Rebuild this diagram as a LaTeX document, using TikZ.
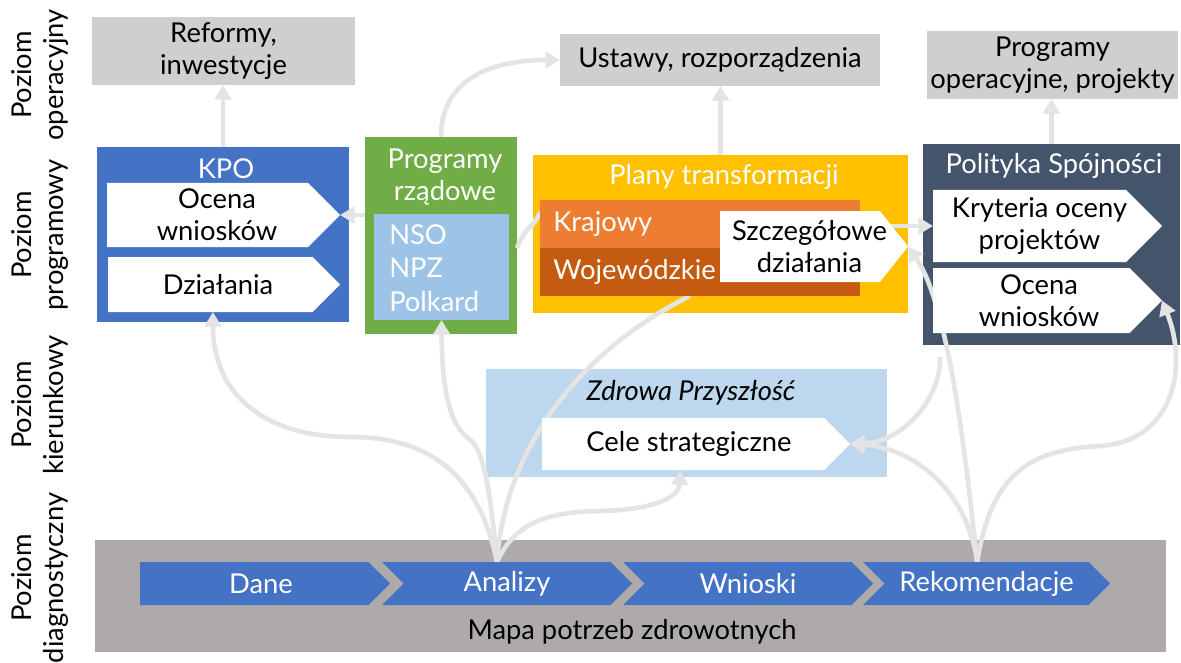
\documentclass[tikz,border=0pt]{standalone}
\usepackage{fontspec}
\setmainfont{Lato}
\usetikzlibrary{shapes.symbols,arrows.meta}

\definecolor{boxgrey}{HTML}{D0CECE}
\definecolor{kpoblue}{HTML}{4472C4}
\definecolor{rzgreen}{HTML}{70AD47}
\definecolor{nsoblue}{HTML}{9DC3E6}
\definecolor{plyellow}{HTML}{FFC000}
\definecolor{krorange}{HTML}{ED7D31}
\definecolor{wojorange}{HTML}{C55A11}
\definecolor{psslate}{HTML}{44546A}
\definecolor{zpblue}{HTML}{BDD7EE}
\definecolor{mapgrey}{HTML}{AEAAAA}
\definecolor{linkgrey}{HTML}{E4E4E4}

\pgfdeclarelayer{back}
\pgfdeclarelayer{front}
\pgfsetlayers{back,main,front}

\tikzset{
  base/.style={font=\fontsize{20.5}{24}\selectfont},
  lvl/.style={base, rotate=90, align=center, inner sep=0pt},
  area/.style={inner sep=0pt, outer sep=0pt},
  greybox/.style={area, base, fill=boxgrey, align=center},
  head/.style={base, text=white, align=center, inner sep=0.75pt},
  txt/.style={base, align=center, inner sep=0.75pt},
  band/.style={area, base, text=white, text width=220pt, inner xsep=10pt, minimum height=36pt, align=left},
  tag/.style={shape=signal, signal to=east, signal pointer angle=90, fill=white, inner sep=0pt, outer sep=0pt},
  chev/.style={shape=signal, signal from=west, signal to=east, signal pointer angle=90, fill=kpoblue, text=white, minimum width=187.5pt, minimum height=32.25pt, inner sep=0pt, outer sep=0pt, base},
  link/.style={draw=linkgrey, line width=3.5pt, -{Triangle[length=11pt,width=12.5pt]}},
  stub/.style={draw=linkgrey, line width=3.5pt},
}

\begin{document}
\begin{tikzpicture}[x=0.75pt,y=0.75pt,yscale=-1,xscale=1]
        \useasboundingbox (0,0) rectangle (1181,663);

        \node [lvl] (lop) at (40,75) {Poziom\\operacyjny};
        \node [lvl] (lpr) at (40,235) {Poziom\\programowy};
        \node [lvl] (lki) at (40,405) {Poziom\\kierunkowy};
        \node [lvl] (ldi) at (40,578) {Poziom\\diagnostyczny};

        \begin{pgfonlayer}{back}
        \node [greybox, minimum width=197.25pt, minimum height=51pt] (reformy) at (223.5,51) {Reformy,\\inwestycje};
        \node [greybox, minimum width=240pt, minimum height=39pt] (ustawy) at (720,60) {Ustawy, rozporządzenia};
        \node [greybox, minimum width=188.25pt, minimum height=51pt] (progop) at (1052.5,65) {Programy\\operacyjne, projekty};
        \node [area, fill=kpoblue, minimum width=189pt, minimum height=131.25pt] (kpo) at (223,234.5) {};
        \node [area, fill=rzgreen, minimum width=114pt, minimum height=147.75pt] (prz) at (441,235.5) {};
        \node [area, fill=plyellow, minimum width=281.25pt, minimum height=118.5pt] (plany) at (720.5,234) {};
        \node [area, fill=psslate, minimum width=192.75pt, minimum height=150.75pt] (polityka) at (1051.5,244.5) {};
        \node [area, fill=zpblue, minimum width=300.75pt, minimum height=81pt] (zdrowa) at (686.5,423) {};
        \node [area, fill=mapgrey, minimum width=803.25pt, minimum height=84pt] (mapa) at (630.5,596) {};
        \end{pgfonlayer}

        \begin{pgfonlayer}{front}
        \node [head] (kpottl) at (226,169) {KPO};
        \node [tag, minimum width=174.75pt, minimum height=48pt] (ocenak) at (207.5,215) {};
        \node [txt] (ocenaktx) at (217,215) {Ocena\\wniosków};
        \node [tag, minimum width=174pt, minimum height=41.25pt] (dzialania) at (210.25,284.5) {};
        \node [txt] (dzialaniatx) at (218,285) {Działania};

        \node [head] (przttl) at (445,177) {Programy\\rządowe};
        \node [area, fill=nsoblue, minimum width=101.25pt, minimum height=79.5pt] (nso) at (441.5,267) {};
        \node [head, anchor=west, align=left, font=\fontsize{20.5}{25}\selectfont] (nsotxt) at (388,268) {NSO\\NPZ\\Polkard};

        \node [head] (planyttl) at (724,177) {Plany transformacji};
        \node [band, fill=krorange] (kraj) at (700,224) {Krajowy};
        \node [band, fill=wojorange] (wojew) at (700,272) {Wojewódzkie};
        \node [tag, signal pointer angle=103, minimum width=141pt, minimum height=53.25pt] (szcz) at (800,246.5) {};
        \node [txt] (szcztx) at (809.5,246.5) {Szczegółowe\\działania};

        \node [head] (polttl) at (1054,166) {Polityka Spójności};
        \node [tag, minimum width=171.75pt, minimum height=54pt] (kryteria) at (1029.5,226) {};
        \node [txt] (kryteriatx) at (1039.5,226) {Kryteria oceny\\projektów};
        \node [tag, minimum width=171.75pt, minimum height=48.75pt] (ocenaps) at (1031.25,300.5) {};
        \node [txt] (ocenapstx) at (1039,300.5) {Ocena\\wniosków};

        \node [txt, font=\fontsize{20.5}{24}\selectfont\itshape] (zdrttl) at (691,393) {Zdrowa Przyszłość};
        \node [tag, minimum width=231pt, minimum height=39pt] (cele) at (683,444) {};
        \node [txt] (celetx) at (689,444) {Cele strategiczne};

        \node [chev, signal from=nowhere, execute at begin node={\hspace*{10pt}}] (dane) at (254.25,583.5) {Dane};
        \node [chev] (analizy) at (507,583.5) {Analizy};
        \node [chev] (wnioski) at (748,583.5) {Wnioski};
        \node [chev, minimum width=185.25pt] (rekom) at (986.5,583.5) {Rekomendacje};
        \node [txt] (mapatxt) at (632,632) {Mapa potrzeb zdrowotnych};
        \end{pgfonlayer}

        \coordinate (ansrc) at ([xshift=-7.5pt]analizy.north);
        \coordinate (rksrc) at ([xshift=-7pt]rekom.north);

        \draw [link] (kpo.north) -- (kpo.north |- reformy.south);
        \draw [link] (plany.north) -- (plany.north |- ustawy.south);
        \draw [link] (polityka.north) -- (polityka.north |- progop.south);
        \draw [link] (prz.west |- ocenak.east) -- (ocenak.east);
        \draw [link] (prz.north) .. controls (441,80) and (490,60) .. (ustawy.west);
        \draw [stub] ([yshift=9.4pt]prz.east) .. controls (527,223) and (533,230) .. ([yshift=-9pt]kraj.west);
        \draw [link] ([xshift=-16pt]szcz.east |- kryteria.west) -- (kryteria.west);

        \draw [link] (ansrc) .. controls (478,470) and (425,437) .. (350,437) .. controls (265,437) and (213,395) .. ([xshift=2pt]dzialania.south);
        \draw [link] (ansrc) .. controls (490,490) and (484,448) .. (468,438) .. controls (450,425) and (442,390) .. (nso.south);
        \draw [stub] (ansrc) .. controls (505,440) and (590,345) .. ([xshift=-7.5pt]wojew.south);
        \draw [link] (ansrc) .. controls (515,522) and (548,512) .. (600,511) .. controls (652,510) and (679,498) .. ([xshift=-2pt]cele.south);

        \draw [link] (rksrc) .. controls (968,492) and (915,448) .. (cele.east);
        \draw [link] (rksrc) .. controls (962,420) and (945,300) .. (szcz.east);
        \draw [link] (rksrc) .. controls (992,468) and (1035,450) .. (1100,446) .. controls (1175,441) and (1188,365) .. (ocenaps.east);
        \draw [link] ([xshift=12.75pt,yshift=9pt]polityka.south west) .. controls (942,395) and (905,442) .. (cele.east);
\end{tikzpicture}
\end{document}
